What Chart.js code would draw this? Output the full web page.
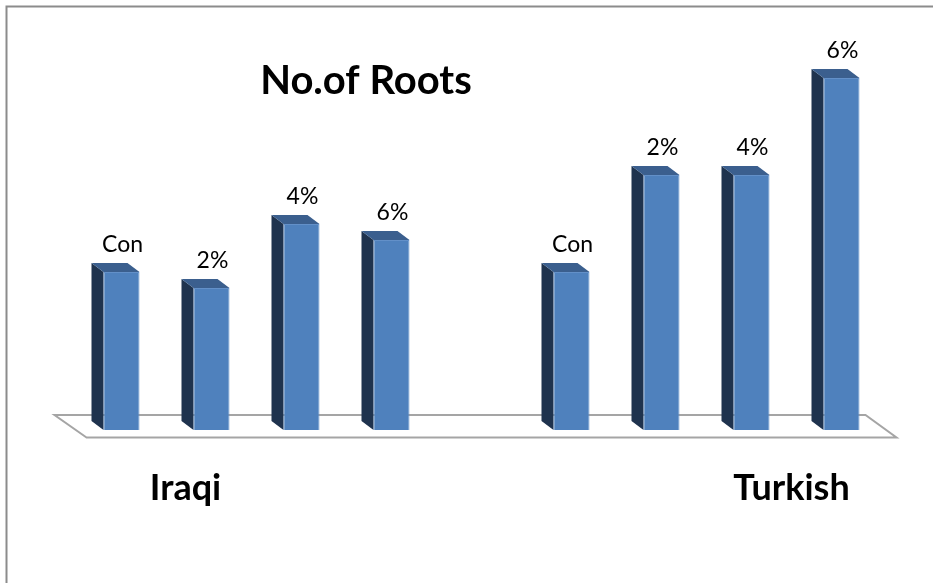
<!DOCTYPE html>
<html>
<head>
<meta charset="utf-8">
<script src="https://cdn.jsdelivr.net/npm/chart.js@4/dist/chart.umd.min.js"></script>
<style>
    html, body { margin: 0; padding: 0; background: #ffffff; }
    #wrap { position: relative; width: 933px; height: 583px; }
</style>
</head>
<body>
<div id="wrap"><canvas id="rootsChart"></canvas></div>
<script>
// groups on the category axis
const groups = ['Iraqi', 'Turkish'];
// one series per treatment, name is shown above each bar
const seriesNames = ['Con', '2%', '4%', '6%'];
const conValues = [3.16, 3.16];
const twoPctValues = [2.84, 5.1];
const fourPctValues = [4.12, 5.1];
const sixPctValues = [3.8, 7.04];
const chartTitle = 'No.of Roots';

const seriesValues = [conValues, twoPctValues, fourPctValues, sixPctValues];

const frontColor = '#4f81bd';
const sideColor = '#1f334e';
const topColor = '#3b5f8e';
const depthX = 12;
const depthY = 9;

// floor, side and top faces of the 3D columns
const threeDPlugin = {
    id: 'threeD',
    beforeDatasetsDraw(chart) {
        const ctx = chart.ctx;
        const first = chart.getDatasetMeta(0).data[0];
        const last = chart.getDatasetMeta(seriesNames.length - 1).data[groups.length - 1];
        const base = first.base;
        const frontLeft = first.x - first.width / 2 - 17;
        const frontRight = last.x + last.width / 2 + 37;
        ctx.save();
        ctx.strokeStyle = '#a5a5a5';
        ctx.lineWidth = 2;
        ctx.fillStyle = '#ffffff';
        ctx.beginPath();
        ctx.moveTo(frontLeft, base + 7.5);
        ctx.lineTo(frontLeft - 32, base - 15);
        ctx.lineTo(frontRight - 31, base - 15);
        ctx.lineTo(frontRight, base + 7.5);
        ctx.closePath();
        ctx.fill();
        ctx.stroke();

        chart.data.datasets.forEach((ds, i) => {
            chart.getDatasetMeta(i).data.forEach(bar => {
                const left = bar.x - bar.width / 2;
                const right = bar.x + bar.width / 2;
                ctx.fillStyle = sideColor;
                ctx.beginPath();
                ctx.moveTo(left, bar.y);
                ctx.lineTo(left - depthX, bar.y - depthY);
                ctx.lineTo(left - depthX, bar.base - depthY);
                ctx.lineTo(left, bar.base);
                ctx.closePath();
                ctx.fill();
                ctx.fillStyle = topColor;
                ctx.beginPath();
                ctx.moveTo(left, bar.y);
                ctx.lineTo(left - depthX, bar.y - depthY);
                ctx.lineTo(right - depthX, bar.y - depthY);
                ctx.lineTo(right, bar.y);
                ctx.closePath();
                ctx.fill();
            });
        });
        ctx.restore();
    },
    afterDatasetsDraw(chart) {
        const ctx = chart.ctx;
        ctx.save();
        ctx.fillStyle = '#000000';
        ctx.textAlign = 'center';
        ctx.textBaseline = 'alphabetic';
        ctx.font = '23px Lato';
        chart.data.datasets.forEach((ds, i) => {
            chart.getDatasetMeta(i).data.forEach(bar => {
                ctx.fillText(ds.label, bar.x + 1, bar.y - 20);
            });
        });

        // group names sit below the floor, shifted outward
        const xScale = chart.scales.x;
        const shifts = [-71, 85];
        ctx.font = 'bold 36px Lato';
        groups.forEach((g, i) => {
            ctx.fillText(g, xScale.getPixelForValue(i) + shifts[i], chart.chartArea.bottom + 70);
        });

        ctx.font = 'bold 40px Lato';
        ctx.fillText(chartTitle, 366, 94);

        // frame line along the top and left
        ctx.strokeStyle = '#8c8c8c';
        ctx.lineWidth = 2;
        ctx.beginPath();
        ctx.moveTo(6.5, chart.height);
        ctx.lineTo(6.5, 6.5);
        ctx.lineTo(chart.width, 6.5);
        ctx.stroke();
        ctx.restore();
    }
};

const ctx = document.getElementById('rootsChart').getContext('2d');
new Chart(ctx, {
    type: 'bar',
    data: {
        labels: groups,
        datasets: seriesNames.map((name, i) => ({
            label: name,
            data: seriesValues[i],
            backgroundColor: frontColor,
            borderColor: '#6390c8',
            borderWidth: 1,
            categoryPercentage: 0.8,
            barPercentage: 0.4
        }))
    },
    options: {
        responsive: true,
        maintainAspectRatio: false,
        animation: false,
        layout: {
            padding: { left: 31.5, right: 1.5, top: 30, bottom: 153 }
        },
        plugins: {
            legend: { display: false },
            title: { display: false },
            tooltip: { enabled: false }
        },
        scales: {
            x: { display: false },
            y: { display: false, min: 0, max: 8 }
        }
    },
    plugins: [threeDPlugin]
});
</script>
</body>
</html>
